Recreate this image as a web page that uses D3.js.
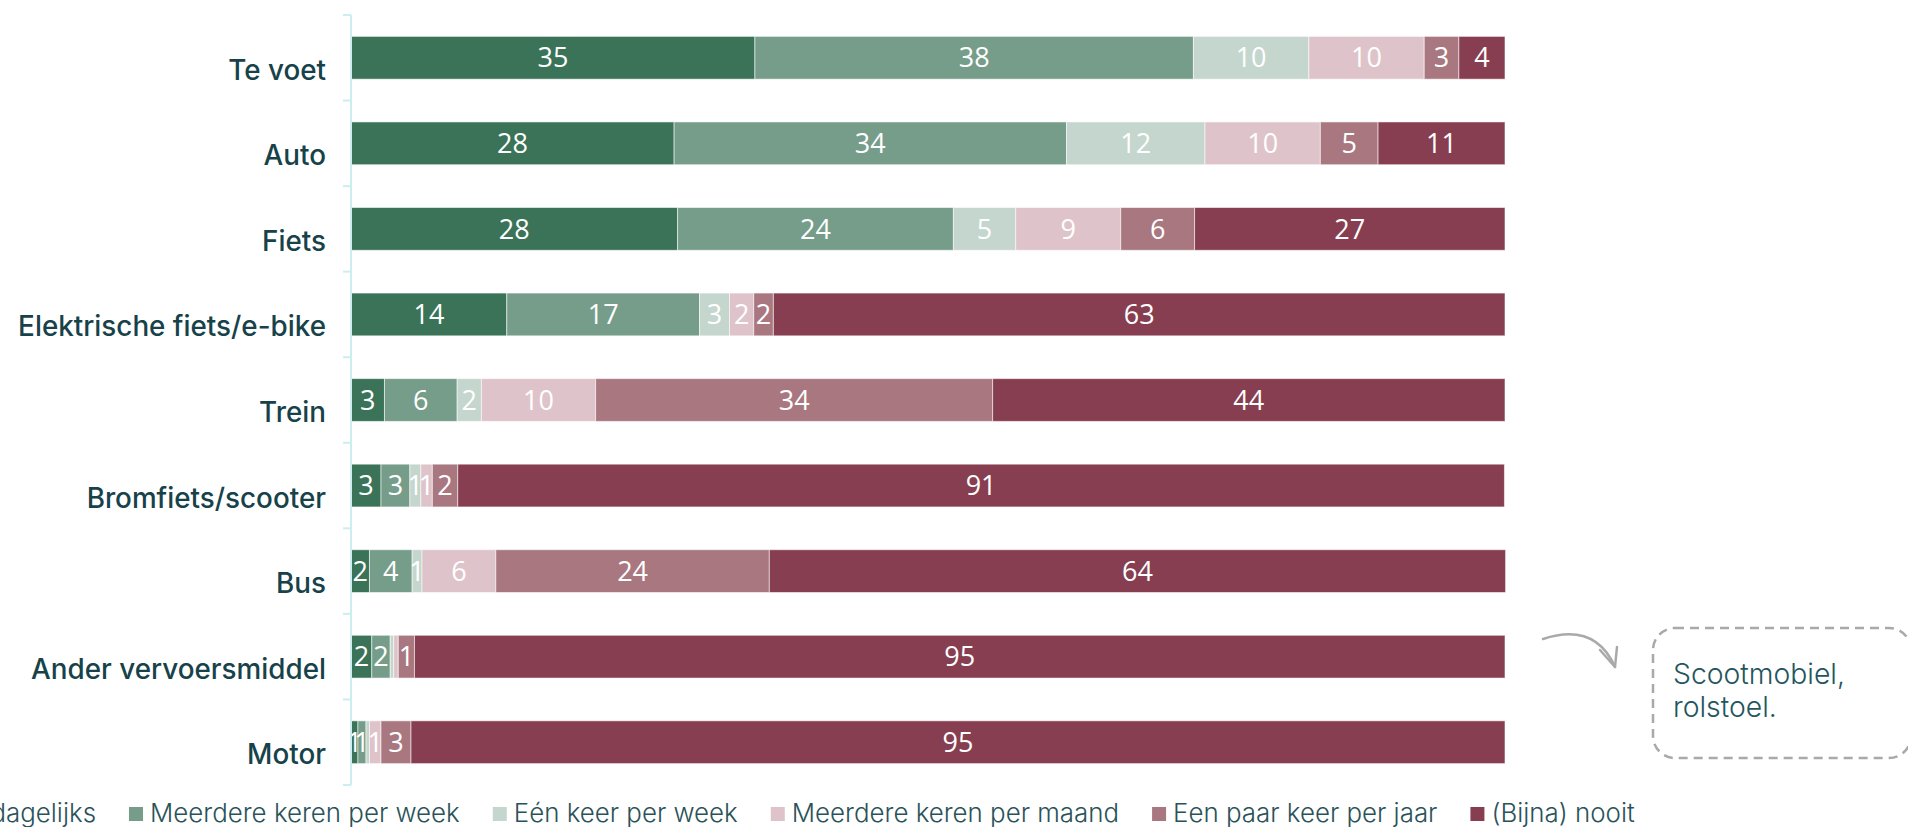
<!DOCTYPE html>
<html>
<head>
<meta charset="utf-8">
<script src="https://cdn.jsdelivr.net/npm/d3@7"></script>
<style>
  html, body { margin: 0; padding: 0; background: #fff; }
  svg { display: block; }
  text { font-variant-ligatures: none; }
</style>
</head>
<body>
<svg id="chart" width="1908" height="827"></svg>
<script>
// ---- data ----
const categories = ["Te voet", "Auto", "Fiets", "Elektrische fiets/e-bike", "Trein",
  "Bromfiets/scooter", "Bus", "Ander vervoersmiddel", "Motor"];
const seriesNames = ["(Bijna) dagelijks", "Meerdere keren per week", "Eén keer per week",
  "Meerdere keren per maand", "Een paar keer per jaar", "(Bijna) nooit"];
const dagelijks   = [35, 28, 28.3, 13.5, 2.9, 2.6, 1.6, 1.8, 0.6];
const perWeek     = [38, 34, 23.9, 16.7, 6.3, 2.5, 3.7, 1.6, 0.7];
const eenKeerWeek = [10, 12, 5.4, 2.6, 2.1, 0.95, 0.85, 0.3, 0.3];
const perMaand    = [10, 10, 9.1, 2.1, 9.9, 1.0, 6.4, 0.4, 1.0];
const perJaar     = [3, 5, 6.4, 1.7, 34.4, 2.2, 23.7, 1.4, 2.6];
const nooit       = [4, 11, 26.9, 63.4, 44.4, 90.7, 63.8, 94.5, 94.8];
const seriesValues = [dagelijks, perWeek, eenKeerWeek, perMaand, perJaar, nooit];
const colors = ["#3b7359", "#769d8a", "#c4d6cd", "#dec4ca", "#a9777f", "#873e50"];
const annotationLines = ["Scootmobiel,", "rolstoel."];

// ---- build table ----
const keys = seriesNames;
const table = categories.map((c, i) => {
  const row = { cat: c };
  keys.forEach((k, j) => row[k] = seriesValues[j][i]);
  return row;
});
const stacked = d3.stack().keys(keys)(table);

const svg = d3.select("#chart");
const x = d3.scaleLinear().domain([0, 100]).range([351, 1505]);
const yAxisBand = d3.scaleBand().domain(categories).range([15, 785]).padding(0);
const y = d3.scaleBand().domain(categories).range([15, 785]).paddingInner(0.5).paddingOuter(0.25);
const color = d3.scaleOrdinal().domain(keys).range(colors);

// fit a font size so that a sample text gets a target width
function fitSize(family, weight, sample, target) {
  const t = svg.append("text")
    .style("font-family", family).style("font-weight", weight)
    .style("font-size", "100px").text(sample);
  const w = t.node().getComputedTextLength();
  t.remove();
  return 100 * target / w;
}

// ---- bars ----
const layers = svg.append("g").selectAll("g").data(stacked).join("g")
  .attr("fill", d => color(d.key));
layers.selectAll("rect").data(d => d).join("rect")
  .attr("x", d => x(d[0]))
  .attr("y", d => y(d.data.cat))
  .attr("width", d => Math.max(0, x(d[1]) - x(d[0])))
  .attr("height", y.bandwidth())
  .attr("stroke", "#ffffff")
  .attr("stroke-opacity", 0.55)
  .attr("stroke-width", 1);

// ---- value labels ----
const labelG = svg.append("g");
stacked.forEach(layer => {
  const key = layer.key;
  labelG.selectAll(null).data(layer.filter(d => d.data[key] >= 0.5)).join("text")
    .attr("x", d => (x(d[0]) + x(d[1])) / 2)
    .attr("y", d => y(d.data.cat) + y.bandwidth() / 2)
    .attr("dy", "0.36em")
    .attr("text-anchor", "middle")
    .attr("fill", "#ffffff")
    .style("font-family", "'Open Sans', sans-serif")
    .style("font-size", "27px")
    .text(d => Math.round(d.data[key]));
});

// ---- y axis ----
const axisColor = "#cdeef1";
const axisG = svg.append("g");
axisG.append("line")
  .attr("x1", 351).attr("x2", 351)
  .attr("y1", yAxisBand.range()[0]).attr("y2", yAxisBand.range()[1])
  .attr("stroke", axisColor).attr("stroke-width", 2);
const boundaries = categories.map(c => yAxisBand(c)).concat([yAxisBand.range()[1]]);
axisG.selectAll("line.tick").data(boundaries).join("line")
  .attr("class", "tick")
  .attr("x1", 343).attr("x2", 351)
  .attr("y1", d => d).attr("y2", d => d)
  .attr("stroke", axisColor).attr("stroke-width", 2);
const catFamily = "Inter, sans-serif";
const catSize = fitSize(catFamily, 500, "Elektrische fiets/e-bike", 308);
axisG.selectAll("text.cat").data(categories).join("text")
  .attr("class", "cat")
  .attr("x", 326)
  .attr("y", d => y(d) + y.bandwidth() / 2 + 22)
  .attr("text-anchor", "end")
  .attr("fill", "#17424a")
  .style("font-family", catFamily)
  .style("font-weight", 500)
  .style("font-size", catSize + "px")
  .text(d => d);

// ---- legend ----
const legFamily = "Inter, sans-serif";
const legSize = fitSize(legFamily, 300, "Meerdere keren per week", 310);
const legendG = svg.append("g");
const items = legendG.selectAll("g").data(keys).join("g");
items.append("rect")
  .attr("width", 14).attr("height", 14)
  .attr("y", 807)
  .attr("fill", d => color(d));
items.append("text")
  .attr("x", 21)
  .attr("y", 822)
  .attr("fill", "#2a5259")
  .style("font-family", legFamily)
  .style("font-size", legSize + "px")
  .style("font-weight", 300)
  .text(d => d);
let pos = 0;
const offsets = [];
items.each(function() {
  const w = d3.select(this).select("text").node().getComputedTextLength();
  offsets.push(pos);
  pos += 21 + w + 33;
});
const shift = 129 - offsets[1];
items.attr("transform", (d, i) => `translate(${offsets[i] + shift},0)`);

// ---- annotation ----
const annG = svg.append("g");
annG.append("path")
  .attr("d", "M1543,639 Q1595,622 1615,667")
  .attr("fill", "none").attr("stroke", "#a9a9a9").attr("stroke-width", 2.5)
  .attr("stroke-linecap", "round");
annG.append("path")
  .attr("d", "M1600,650 L1615,667 L1617,647")
  .attr("fill", "none").attr("stroke", "#a9a9a9").attr("stroke-width", 2.5)
  .attr("stroke-linecap", "round").attr("stroke-linejoin", "round");
annG.append("rect")
  .attr("x", 1653).attr("y", 628).attr("width", 258).attr("height", 130)
  .attr("rx", 22).attr("ry", 22)
  .attr("fill", "none").attr("stroke", "#a9a9a9").attr("stroke-width", 2.5)
  .attr("stroke-dasharray", "9,6");
const annSize = fitSize(legFamily, 300, "Scootmobiel,", 172);
annG.selectAll("text").data(annotationLines).join("text")
  .attr("x", 1673)
  .attr("y", (d, i) => 684 + i * 33)
  .attr("fill", "#1f5660")
  .style("font-family", legFamily)
  .style("font-weight", 300)
  .style("font-size", annSize + "px")
  .text(d => d);
</script>
</body>
</html>
